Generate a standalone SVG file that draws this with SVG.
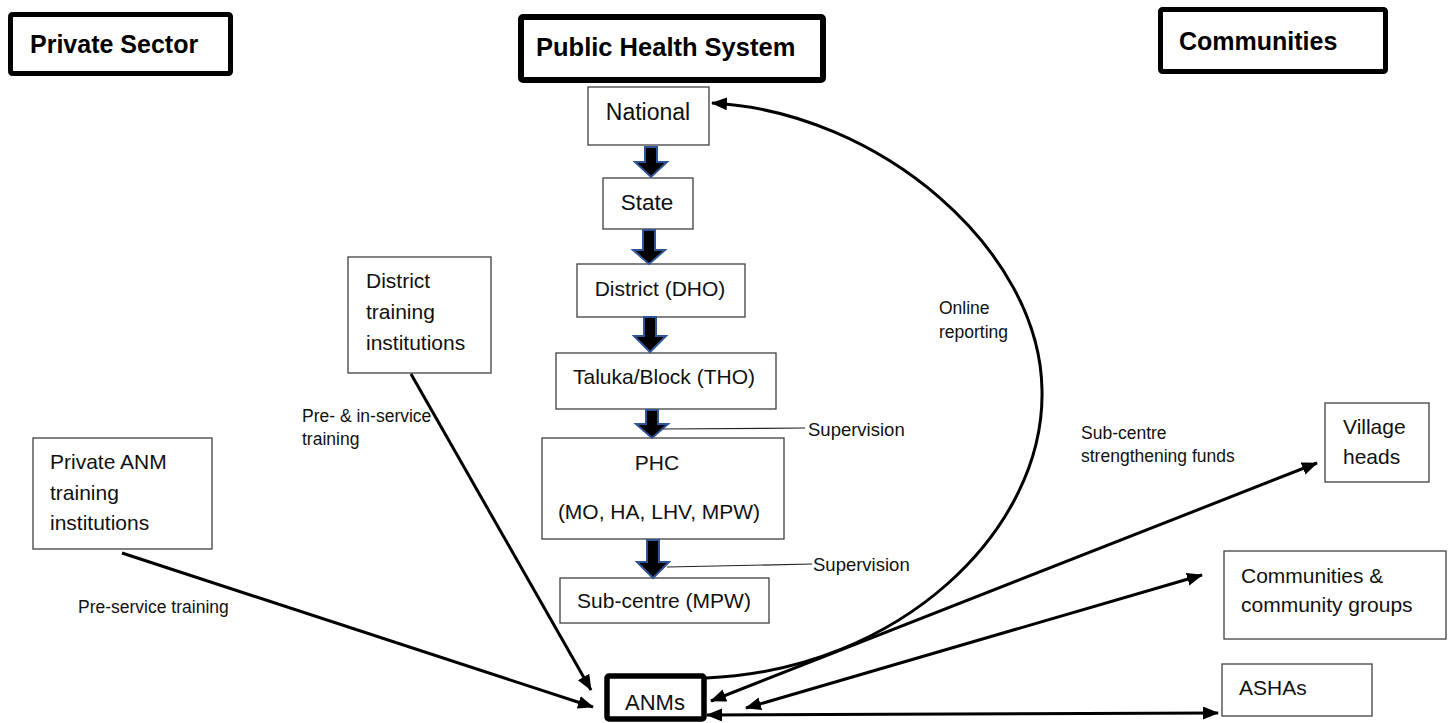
<svg xmlns="http://www.w3.org/2000/svg" width="1450" height="723" viewBox="0 0 1450 723">
  <style>
    .hdr { fill: #fff; stroke: #000; stroke-width: 5; }
    .hdrt { font-family: "Liberation Sans", Arial, sans-serif; font-weight: bold; font-size: 25px; fill: #000; }
    .box { fill: #fff; stroke: #404040; stroke-width: 1.3; }
    .t { font-family: "Liberation Sans", Arial, sans-serif; font-size: 21px; fill: #111; }
    .lbl { font-family: "Liberation Sans", Arial, sans-serif; font-size: 17.5px; fill: #111; }
    .blk { fill: #000; stroke: #2F5597; stroke-width: 2; stroke-linejoin: miter; }
    .con { fill: none; stroke: #000; stroke-width: 3; }
    .thin { fill: none; stroke: #222; stroke-width: 1.2; }
  </style>
  <defs>
    <marker id="ah" markerUnits="userSpaceOnUse" markerWidth="18" markerHeight="14" refX="15" refY="6.5" orient="auto-start-reverse">
      <path d="M0,0 L16,6.5 L0,13 z" fill="#000"/>
    </marker>
  </defs>

  <g id="header-private">
    <rect class="hdr" x="10.5" y="14.5" width="220" height="59" rx="2"/>
    <text class="hdrt" x="30" y="53">Private Sector</text>
  </g>
  <g id="header-public">
    <rect class="hdr" x="521" y="17" width="302" height="63" rx="2" style="stroke-width:6"/>
    <text class="hdrt" x="536" y="56" style="font-size:25.5px">Public Health System</text>
  </g>
  <g id="header-communities">
    <rect class="hdr" x="1160.5" y="9.5" width="225" height="62" rx="2"/>
    <text class="hdrt" x="1179" y="50">Communities</text>
  </g>

  <g id="national">
    <rect class="box" x="588" y="87" width="121" height="58"/>
    <text class="t" x="648" y="120" text-anchor="middle" style="font-size:23px">National</text>
  </g>
  <g id="state">
    <rect class="box" x="603" y="178" width="90" height="51"/>
    <text class="t" x="647" y="210" text-anchor="middle" style="font-size:22.5px">State</text>
  </g>
  <g id="district">
    <rect class="box" x="577" y="264" width="168" height="53"/>
    <text class="t" x="660" y="296" text-anchor="middle">District (DHO)</text>
  </g>
  <g id="taluka">
    <rect class="box" x="556" y="353" width="220" height="56"/>
    <text class="t" x="664" y="384" text-anchor="middle">Taluka/Block (THO)</text>
  </g>
  <g id="phc">
    <rect class="box" x="542" y="438" width="242" height="101"/>
    <text class="t" x="657" y="470" text-anchor="middle">PHC</text>
    <text class="t" x="659" y="519" text-anchor="middle">(MO, HA, LHV, MPW)</text>
  </g>
  <g id="subcentre">
    <rect class="box" x="560" y="578" width="209" height="45"/>
    <text class="t" x="664" y="608" text-anchor="middle">Sub-centre (MPW)</text>
  </g>
  <g id="anms">
    <rect x="607" y="676" width="97" height="43" fill="#fff" stroke="#000" stroke-width="5.5" rx="2"/>
    <text class="t" x="655" y="710" text-anchor="middle" style="font-size:22px">ANMs</text>
  </g>
  <g id="district-training">
    <rect class="box" x="348" y="257" width="143" height="116"/>
    <text class="t" x="366" y="288">District</text>
    <text class="t" x="366" y="319">training</text>
    <text class="t" x="366" y="350">institutions</text>
  </g>
  <g id="private-anm">
    <rect class="box" x="33" y="438" width="179" height="111"/>
    <text class="t" x="50" y="469">Private ANM</text>
    <text class="t" x="50" y="500">training</text>
    <text class="t" x="50" y="530">institutions</text>
  </g>
  <g id="village-heads">
    <rect class="box" x="1325" y="403" width="104" height="79"/>
    <text class="t" x="1343" y="434">Village</text>
    <text class="t" x="1343" y="464">heads</text>
  </g>
  <g id="communities-groups">
    <rect class="box" x="1224" y="551" width="222" height="88"/>
    <text class="t" x="1241" y="583">Communities &amp;</text>
    <text class="t" x="1241" y="612">community groups</text>
  </g>
  <g id="ashas">
    <rect class="box" x="1222" y="664" width="150" height="52"/>
    <text class="t" x="1239" y="695">ASHAs</text>
  </g>

  <g id="connectors">
    <polygon class="blk" points="645,147 657,147 657,162 667,162 651,177 635,162 645,162"/>
    <polygon class="blk" points="643,230 655,230 655,250 665,250 649,264 633,250 643,250"/>
    <polygon class="blk" points="644,317 656,317 656,336 666,336 650,352 634,336 644,336"/>
    <polygon class="blk" points="646,410 658,410 658,424 668,424 652,438 636,424 646,424"/>
    <polygon class="blk" points="647,540 659,540 659,562 669,562 653,578 637,562 647,562"/>

    <path class="thin" d="M663,429 L805,428"/>
    <path class="thin" d="M667,567 L812,564"/>

    <path class="con" d="M411,374 L591,690" marker-end="url(#ah)"/>
    <path class="con" d="M122,553 L593,707" marker-end="url(#ah)"/>
    <path class="con" d="M706,678 C900,670 1045,530 1042,390 C1040,250 880,112 712,103" marker-end="url(#ah)"/>
    <path class="con" d="M711,701 L1317,463" marker-start="url(#ah)" marker-end="url(#ah)"/>
    <path class="con" d="M746,708 L1202,575" marker-start="url(#ah)" marker-end="url(#ah)"/>
    <path class="con" d="M707,715 L1218,713" marker-start="url(#ah)" marker-end="url(#ah)"/>
  </g>

  <g id="labels">
    <text class="lbl" x="808" y="436" style="font-size:18.5px">Supervision</text>
    <text class="lbl" x="813" y="571" style="font-size:18.5px">Supervision</text>
    <text class="lbl" x="939" y="314">Online</text>
    <text class="lbl" x="939" y="338">reporting</text>
    <text class="lbl" x="302" y="422">Pre- &amp; in-service</text>
    <text class="lbl" x="302" y="445">training</text>
    <text class="lbl" x="78" y="613">Pre-service training</text>
    <text class="lbl" x="1081" y="439">Sub-centre</text>
    <text class="lbl" x="1081" y="462">strengthening funds</text>
  </g>
</svg>
